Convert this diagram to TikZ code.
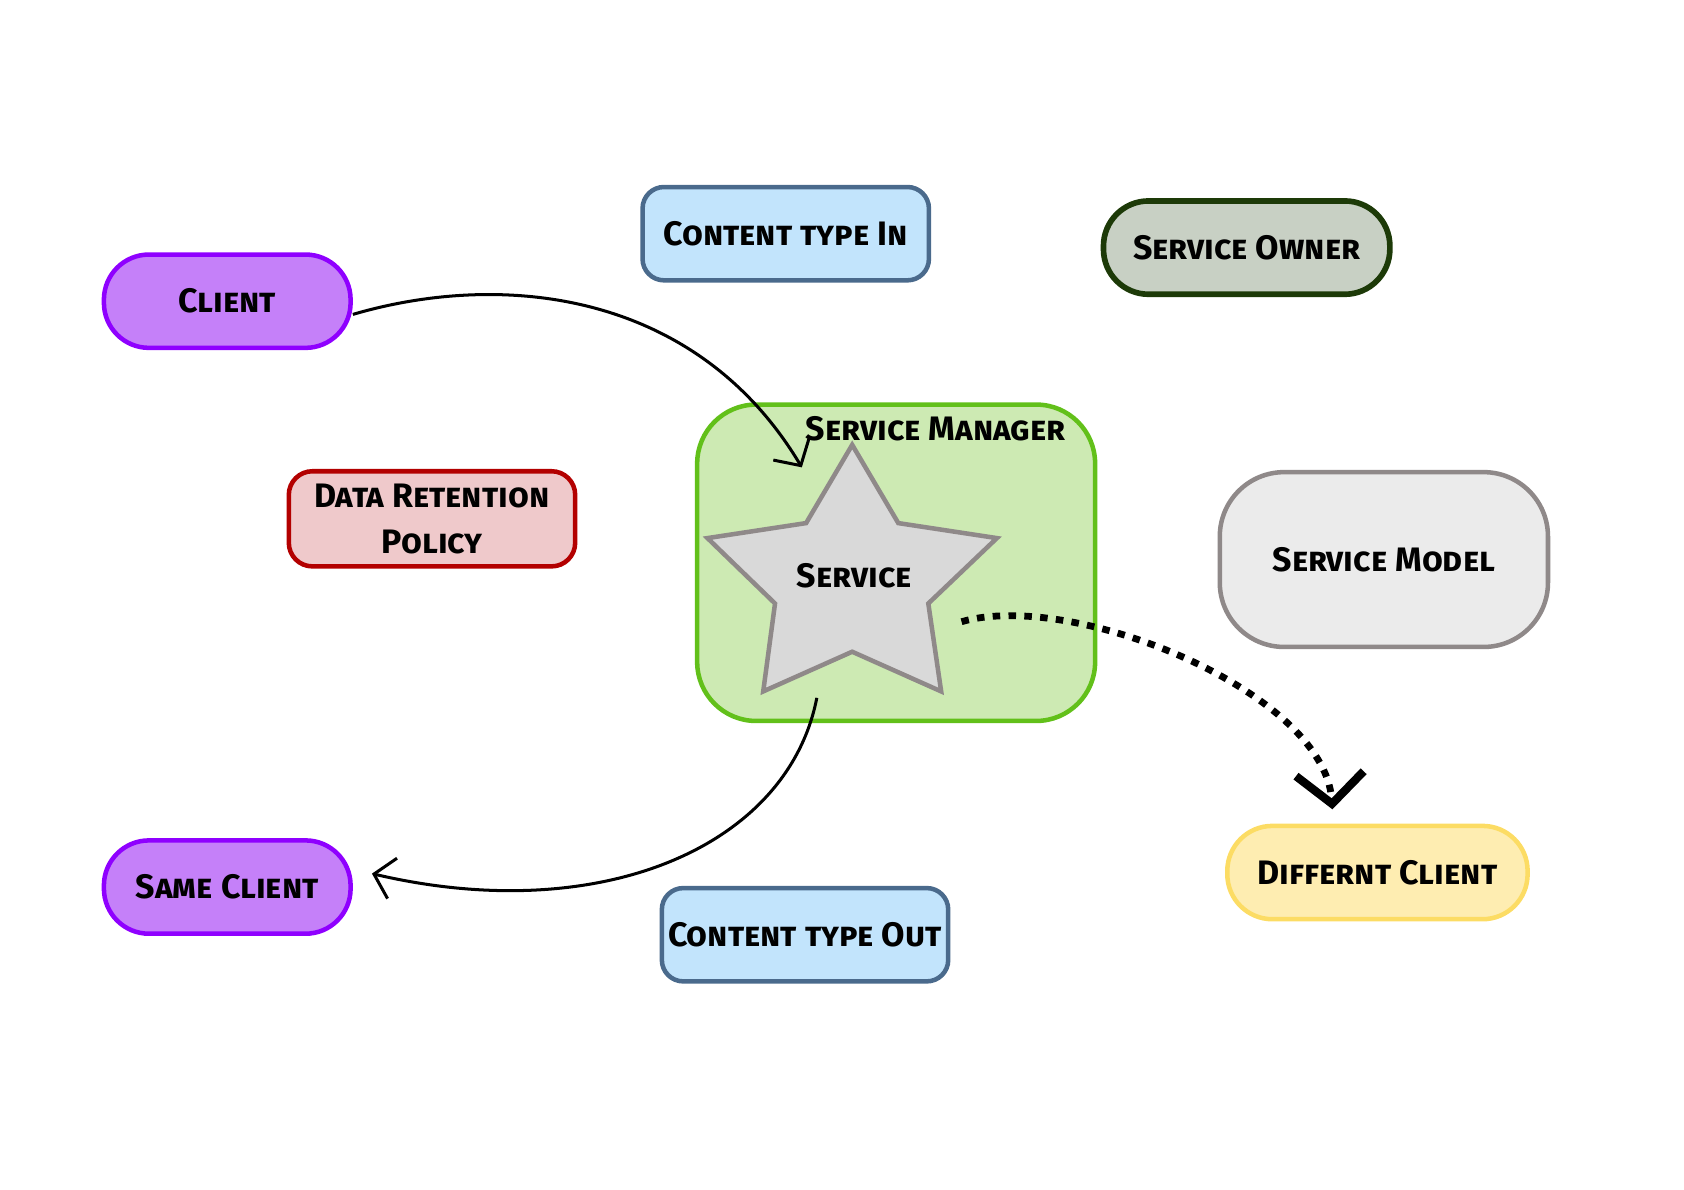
\documentclass[tikz,border=0pt]{standalone}
\usepackage{fontspec}
\setmainfont{Fira Sans}
\usetikzlibrary{arrows.meta, positioning}
\definecolor{clfill}{HTML}{C580F9}
\definecolor{cldraw}{HTML}{8F00FF}
\definecolor{ctfill}{HTML}{C2E4FC}
\definecolor{ctdraw}{HTML}{4A6A8C}
\definecolor{sofill}{HTML}{C8D0C4}
\definecolor{sodraw}{HTML}{1D3A08}
\definecolor{drfill}{HTML}{EFC9CB}
\definecolor{drdraw}{HTML}{B30000}
\definecolor{smfill}{HTML}{CDEAB3}
\definecolor{smdraw}{HTML}{62C01A}
\definecolor{stfill}{HTML}{D9D9D9}
\definecolor{stdraw}{HTML}{8F8989}
\definecolor{mdfill}{HTML}{EBEBEB}
\definecolor{dcfill}{HTML}{FEEDB1}
\definecolor{dcdraw}{HTML}{FCDC64}

\begin{document}
\begin{tikzpicture}[x=0.01cm, y=-0.01cm,
        every node/.style={font=\fontsize{9}{12.2}\selectfont\bfseries\scshape},
        pill/.style={draw, line width=1.2pt, rounded corners=0.42cm, minimum width=2.3cm, minimum height=0.87cm},
        box/.style={draw, line width=1.2pt, rounded corners=0.2cm, minimum width=2.67cm, minimum height=0.87cm, align=center},
        link/.style={line width=0.8pt, -{Straight Barb[length=5pt, width=11pt]}}]
        \useasboundingbox (0,0) rectangle (1571,1110);
        % boxes
        \node[pill, fill=clfill, draw=cldraw] (client) at (212,281) {Client};
        \node[pill, fill=clfill, draw=cldraw, below=4.55cm of client] (sameclient) {Same Client};
        \node[box, fill=ctfill, draw=ctdraw] (ctin) at (733,218) {Content type In};
        \node[box, fill=ctfill, draw=ctdraw, inner xsep=1pt] (ctout) at (751,872) {Content type Out};
        \node[pill, fill=sofill, draw=sodraw, minimum width=2.67cm, line width=1.5pt] (owner) at (1163,231) {Service Owner};
        \node[box, fill=drfill, draw=drdraw, rounded corners=0.22cm] (policy) at (403,484) {Data Retention\\Policy};
        \node[pill, fill=dcfill, draw=dcdraw, minimum width=2.8cm] (diffclient) at (1285,814) {Differnt Client};
        \node[box, fill=mdfill, draw=stdraw, minimum width=3.06cm, minimum height=1.63cm, rounded corners=0.6cm] (model) at (1291,522) {Service Model};
        % manager and service
        \node[box, fill=smfill, draw=smdraw, minimum width=3.71cm, minimum height=2.95cm, rounded corners=0.55cm] (manager) at (836,525) {};
        \node (managerlabel) at (873,400) {Service Manager};
        \draw[line width=1.2pt, fill=stfill, draw=stdraw] (795,415) -- (838,488) -- (930,502) -- (866,563) -- (878,645)
            -- (795,608) -- (712,645) -- (723,563) -- (660,502) -- (752,488) -- cycle;
        \node (service) at (797,537) {Service};
        % arrows
        \coordinate (servicein) at (748,436);
        \coordinate (serviceout) at (762,651);
        \coordinate (servicedot) at (897,580);
        \coordinate (sameend) at (347,815);
        \coordinate (diffend) at (1243,755);
        \draw[link] (client.-6) .. controls (470,252) and (650,272) .. (servicein);
        \draw[link] (serviceout) .. controls (735,790) and (560,865) .. (sameend);
        \draw[line width=1.8pt, dash pattern=on 2pt off 2.2pt, -{Straight Barb[length=8pt, width=18pt, line width=2.2pt]}]
            (servicedot) .. controls (1000,550) and (1235,645) .. (diffend);
    \end{tikzpicture}
\end{document}
